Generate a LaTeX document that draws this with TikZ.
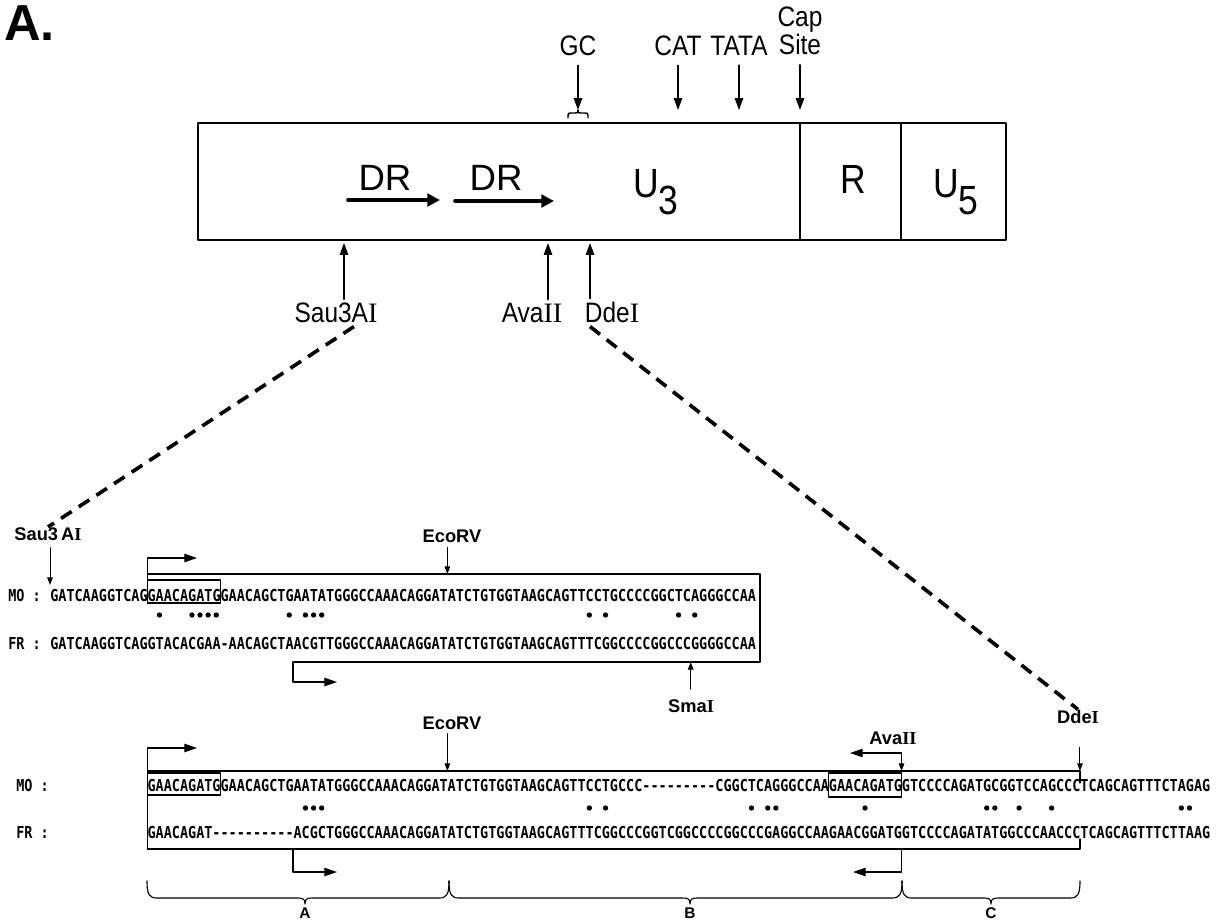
\documentclass[tikz,border=0pt]{standalone}
\usepackage{fontspec}
\setmainfont{Liberation Sans}
\newfontfamily\seqfont[FakeStretch=0.819,Ligatures=TeXOff]{DejaVu Sans Mono}
\newfontfamily\narrowsans[FakeStretch=0.87]{Liberation Sans}
\newfontfamily\romfont{Liberation Serif}
\usetikzlibrary{arrows.meta,calc}

\newcommand{\rI}{{\romfont I}}
\newcommand{\rII}{{\romfont II}}
% left edge of a sequence column
\newcommand{\col}[1]{50+(#1-1)*8.11}
% region brace: start, tip, end
\newcommand{\segbrace}[3]{\draw[frame] (#1,881) .. controls (#1,894) and (#1+2,898) .. (#1+10,898) -- (#2-7,898) .. controls (#2-2,898) and (#2,899) .. (#2,904) .. controls (#2,899) and (#2+2,898) .. (#2+7,898) -- (#3-10,898) .. controls (#3-2,898) and (#3,894) .. (#3,881);}

\tikzset{
  seqrow/.style={font=\seqfont\bfseries\fontsize{11.7}{11.7}\selectfont, inner sep=0pt, anchor=base west},
  toplab/.style={font=\narrowsans\fontsize{20}{22}\selectfont, inner sep=0pt, anchor=base},
  sitelab/.style={font=\bfseries\fontsize{13}{13}\selectfont, inner sep=0pt, anchor=base},
  reglab/.style={font=\bfseries\fontsize{11}{11}\selectfont, inner sep=0pt, anchor=base},
  boxlab/.style={font=\narrowsans\fontsize{29}{29}\selectfont, inner sep=0pt, anchor=base},
  ltr/.style={line width=1.6pt},
  pin/.style={line width=1pt, -{Triangle[length=8.5pt,width=6pt]}},
  cut/.style={line width=0.7pt, -{Triangle[length=5.5pt,width=4pt]}},
  frame/.style={line width=0.8pt},
  bent/.style={line width=0.8pt, -{Triangle[length=9pt,width=6pt]}},
  drarr/.style={line width=2.6pt, -{Triangle[length=9pt,width=9pt]}},
  zoomline/.style={line width=2.6pt, dash pattern=on 9pt off 6pt, line cap=butt}
}

\begin{document}
\begin{tikzpicture}[x=0.025cm, y=-0.025cm, line cap=round, line join=round]
\useasboundingbox (0,0) rectangle (1222,923);

\node[font=\bfseries\fontsize{36}{36}\selectfont, anchor=base west, inner sep=0pt] (panel) at (4,40) {A.};

% LTR
\coordinate (ltrNW) at (198,123);
\coordinate (ltrSE) at (1006,240);
\draw[ltr] (ltrNW) rectangle (ltrSE);
\draw[ltr] (800,123) -- (800,240);
\draw[ltr] (901,123) -- (901,240);

\node[font=\fontsize{26}{26}\selectfont, inner sep=0pt, anchor=base] (dra) at (385,190) {DR};
\node[font=\fontsize{26}{26}\selectfont, inner sep=0pt, anchor=base] (drb) at (496,190) {DR};
\draw[drarr] (348,200) -- (440,200);
\draw[drarr] (455,201) -- (554,201);
\node[boxlab] (uthree) at (656,197) {U\raisebox{-12.5pt}{3}};
\node[boxlab] (rr) at (853,193) {R};
\node[boxlab] (ufive) at (956,197) {U\raisebox{-12.5pt}{5}};

% promoter elements
\coordinate (gcpt) at (578,110);
\coordinate (catpt) at (678,110);
\coordinate (tatapt) at (739,110);
\coordinate (cappt) at (800,110);
\node[toplab] (gc) at (578,55) {GC};
\node[toplab] (cat) at (678,55) {CAT};
\node[toplab] (tata) at (739,55) {TATA};
\node[font=\narrowsans\fontsize{20}{20}\selectfont, inner sep=0pt, anchor=south, align=center] (capsite) at (800,55) {Cap\\Site};
\draw[pin, shorten <=7pt] (gc.south) -- (gcpt);
\draw[pin, shorten <=7pt] (cat.south) -- (catpt);
\draw[pin, shorten <=7pt] (tata.south) -- (tatapt);
\draw[pin, shorten <=7pt] (capsite.south) -- (cappt);
\draw[line width=1pt] (568,118) .. controls (568,113) .. (572,113) -- (575,113) .. controls (578,113) .. (578,110) .. controls (578,113) .. (581,113) -- (584,113) .. controls (588,113) .. (588,118);

% restriction sites below
\coordinate (sau3pt) at (344,243);
\coordinate (avapt) at (548,243);
\coordinate (ddept) at (590,243);
\node[toplab] (sau3) at (336,322) {Sau3A\rI};
\node[toplab] (ava) at (532,322) {Ava\rII};
\node[toplab] (dde) at (612,322) {Dde\rI};
\draw[pin, shorten <=2pt] (sau3.north -| sau3pt) -- (sau3pt);
\draw[pin, shorten <=2pt] (ava.north -| avapt) -- (avapt);
\draw[pin, shorten <=2pt] (dde.north -| ddept) -- (ddept);

% first alignment
\node[sitelab] (saub) at (48,540) {Sau3\,A\rI};
\node[sitelab] (ecob1) at (452,542) {EcoRV};
\coordinate (saucut) at (50,585);
\coordinate (ecocut1) at ({\col{50}},574);
\draw[cut, shorten <=5pt] (saub.south -| saucut) -- (saucut);
\draw[cut, shorten <=3.5pt] (ecob1.south -| ecocut1) -- (ecocut1);

\node[seqrow] (molab1) at (8,601) {MO :};
\node[seqrow] (mo1) at (50,601) {GATCAAGGTCAGGAACAGATGGAACAGCTGAATATGGGCCAAACAGGATATCTGTGGTAAGCAGTTCCTGCCCCGGCTCAGGGCCAA};
\node[seqrow] (frlab1) at (8,649) {FR :};
\node[seqrow] (fr1) at (50,649) {GATCAAGGTCAGGTACACGAA-AACAGCTAACGTTGGGCCAAACAGGATATCTGTGGTAAGCAGTTTCGGCCCCGGCCCGGGGCCAA};
\foreach \c in {14,18,19,20,21,30,32,33,34,67,69,78,80}
  \fill ({\col{\c}+4.05},615) circle[radius=1.9pt];

\draw[frame] ({\col{13}},574) -- (760,574) -- (760,662) -- (293,662);
\draw[frame] ({\col{13}},580) rectangle ({\col{22}},603);
\draw[bent] ({\col{13}},603) -- ({\col{13}},558) -- (197,558);
\draw[bent] (293,662) -- (293,682) -- (337,682);

\node[sitelab] (smab) at (691,712) {Sma\rI};
\coordinate (smacut) at ({\col{80}},662);
\draw[cut, shorten <=7pt] (smab.north -| smacut) -- (smacut);

% second alignment
\node[sitelab] (ecob2) at (452,729) {EcoRV};
\node[sitelab] (avab) at (893,744) {Ava\rII};
\node[sitelab] (ddeb) at (1078,723) {Dde\rI};
\coordinate (ecocut2) at ({\col{50}},771);
\coordinate (avacut) at ({\col{106}},771);
\coordinate (avaknee) at ({\col{106}},753);
\coordinate (avaend) at (850,753);
\coordinate (ddecut) at ({\col{128}},771);
\draw[cut, shorten <=3pt] (ecob2.south -| ecocut2) -- (ecocut2);
\draw[cut, shorten <=17pt] (ddeb.south -| ddecut) -- (ddecut);
\draw[cut] (avaknee) -- (avacut);
\draw[bent] (avaknee) -- (avaend);

\draw[zoomline] ($(sau3.south)+(18,4)$) -- (saub.north);
\draw[zoomline] ($(dde.south)+(-22,4)$) -- (ddeb.north);

\node[seqrow] (molab2) at (16,791) {MO :};
\node[seqrow] (mo2) at ({\col{13}},791) {GAACAGATGGAACAGCTGAATATGGGCCAAACAGGATATCTGTGGTAAGCAGTTCCTGCCC---------CGGCTCAGGGCCAAGAACAGATGGTCCCCAGATGCGGTCCAGCCCTCAGCAGTTTCTAGAG};
\node[seqrow] (frlab2) at (16,838) {FR :};
\node[seqrow] (fr2) at ({\col{13}},838) {GAACAGAT----------ACGCTGGGCCAAACAGGATATCTGTGGTAAGCAGTTTCGGCCCGGTCGGCCCCGGCCCGAGGCCAAGAACGGATGGTCCCCAGATATGGCCCAACCCTCAGCAGTTTCTTAAG};
\foreach \c in {32,33,34,67,69,87,89,90,101,116,117,120,124,140,141}
  \fill ({\col{\c}+4.05},808) circle[radius=1.9pt];

\draw[frame] ({\col{13}},771) -- (ddecut) -- ++(0,12);
\draw[frame] ({\col{13}},849) -- ({\col{128}},849) -- ++(0,-10);
\draw[frame] ({\col{13}},773) rectangle ({\col{22}},795);
\draw[frame] ({\col{97}},773) rectangle ({\col{106}},797);
\draw[bent] ({\col{13}},849) -- ({\col{13}},748) -- (197,748);
\draw[bent] (293,849) -- (293,872) -- (337,872);
\draw[bent] ({\col{106}},849) -- ({\col{106}},872) -- (853,872);

% regions
\segbrace{147}{305}{449}
\segbrace{449}{690}{902}
\segbrace{902}{991}{1080}
\node[reglab] (rega) at (305,918) {A};
\node[reglab] (regb) at (690,918) {B};
\node[reglab] (regc) at (991,918) {C};
\end{tikzpicture}
\end{document}
